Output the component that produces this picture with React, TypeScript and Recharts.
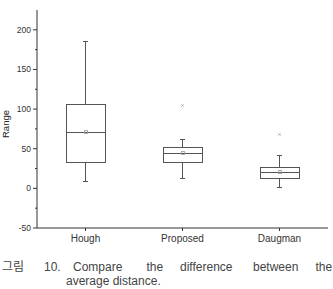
import React from 'react';
import { ComposedChart, Bar, Scatter, XAxis, YAxis } from 'recharts';

// Box-plot statistics per method
const categories = ['Hough', 'Proposed', 'Daugman'];
const whiskerLow = [8.5, 12.5, 1];
const q1 = [33, 33, 12];
const median = [71, 43.5, 20];
const mean = [71.5, 44, 21];
const q3 = [105.5, 51.5, 26.5];
const whiskerHigh = [185, 62, 41];
const outliers: (number | null)[] = [null, 104.5, 68];

const yTicks = [-50, -25, 0, 25, 50, 75, 100, 125, 150, 175, 200];

const data = categories.map((name, i) => ({
  name,
  range: [whiskerLow[i], whiskerHigh[i]],
  low: whiskerLow[i],
  q1: q1[i],
  median: median[i],
  mean: mean[i],
  q3: q3[i],
  high: whiskerHigh[i],
  outlier: outliers[i],
}));

const AXIS = '#333';
const BOX = '#555';
const FONT = '"Liberation Sans", Arial, sans-serif';
const Y_AXIS_WIDTH = 37;

const BoxShape = (props: any) => {
  const { x, y, width, height, payload } = props;
  const top = Math.min(y, y + height);
  const bottom = Math.max(y, y + height);
  const { low, high } = payload;
  const px = (v: number) => top + ((high - v) / (high - low)) * (bottom - top);
  const cx = x + width / 2;
  const cap = 2.5;
  return (
    <g stroke={BOX} strokeWidth={1} fill="none" shapeRendering="crispEdges">
      <line x1={cx} x2={cx} y1={px(high)} y2={px(payload.q3)} />
      <line x1={cx} x2={cx} y1={px(payload.q1)} y2={px(low)} />
      <line x1={cx - cap} x2={cx + cap} y1={px(high)} y2={px(high)} />
      <line x1={cx - cap} x2={cx + cap} y1={px(low)} y2={px(low)} />
      <rect x={x} y={px(payload.q3)} width={width} height={px(payload.q1) - px(payload.q3)} />
      <line x1={x} x2={x + width} y1={px(payload.median)} y2={px(payload.median)} />
      <rect x={cx - 1.5} y={px(payload.mean) - 1.5} width={3} height={3} stroke="#999" strokeWidth={0.8} />
    </g>
  );
};

const OutlierShape = (props: any) => {
  const { cx, cy, payload } = props;
  if (payload == null || payload.outlier == null || cx == null || cy == null) return <g />;
  return (
    <g stroke="#999" strokeWidth={0.8}>
      <line x1={cx - 1.2} x2={cx + 1.2} y1={cy - 1.2} y2={cy + 1.2} />
      <line x1={cx - 1.2} x2={cx + 1.2} y1={cy + 1.2} y2={cy - 1.2} />
    </g>
  );
};

const YTick = (props: any) => {
  const { y, payload } = props;
  const v = payload.value;
  const major = v % 50 === 0;
  const len = major ? 4 : 2;
  return (
    <g>
      <line x1={Y_AXIS_WIDTH - len} x2={Y_AXIS_WIDTH} y1={y} y2={y} stroke={AXIS} strokeWidth={1} />
      {major && (
        <text x={Y_AXIS_WIDTH - 6} y={y} dy="0.35em" textAnchor="end" fontSize={8.5} fill="#333" fontFamily={FONT}>
          {v}
        </text>
      )}
    </g>
  );
};

const YLabel = () => (
  <text
    x={8.5}
    y={124}
    transform="rotate(-90, 8.5, 124)"
    textAnchor="middle"
    fontSize={9.5}
    fill="#222"
    fontFamily={FONT}
  >
    Range
  </text>
);

const captionWords = [
  { t: '그림', x: 2, kr: true },
  { t: '10.', x: 44 },
  { t: 'Compare', x: 73 },
  { t: 'the', x: 146.5 },
  { t: 'difference', x: 180 },
  { t: 'between', x: 253 },
  { t: 'the', x: 315.5 },
];

export default function App() {
  return (
    <div style={{ position: 'absolute', left: 0, top: 0, width: 333, height: 289, background: '#fff' }}>
      <ComposedChart
        width={333}
        height={250}
        data={data}
        margin={{ top: 10, right: 5, left: 0, bottom: 0 }}
      >
        <XAxis
          dataKey="name"
          type="category"
          height={22}
          stroke={AXIS}
          tickSize={3}
          tickMargin={4}
          tick={{ fontSize: 10, fill: '#333', fontFamily: FONT }}
          axisLine={{ stroke: AXIS }}
          tickLine={{ stroke: AXIS }}
        />
        <YAxis
          type="number"
          domain={[-50, 225]}
          ticks={yTicks}
          width={Y_AXIS_WIDTH}
          allowDataOverflow
          interval={0}
          tickLine={false}
          axisLine={{ stroke: AXIS }}
          tick={<YTick />}
          label={<YLabel />}
        />
        <Bar dataKey="range" barSize={39} shape={<BoxShape />} isAnimationActive={false} />
        <Scatter dataKey="outlier" shape={<OutlierShape />} isAnimationActive={false} />
      </ComposedChart>
      <svg width={333} height={39} style={{ position: 'absolute', left: 0, top: 250 }}>
        {captionWords.map((w, i) => (
          <text
            key={i}
            x={w.x}
            y={20.5}
            fontSize={12}
            fill="#444"
            fontFamily={w.kr ? '"Noto Sans CJK KR", sans-serif' : FONT}
          >
            {w.t}
          </text>
        ))}
        <text x={66} y={35} fontSize={12} fill="#444" fontFamily={FONT}>
          average distance.
        </text>
      </svg>
    </div>
  );
}
